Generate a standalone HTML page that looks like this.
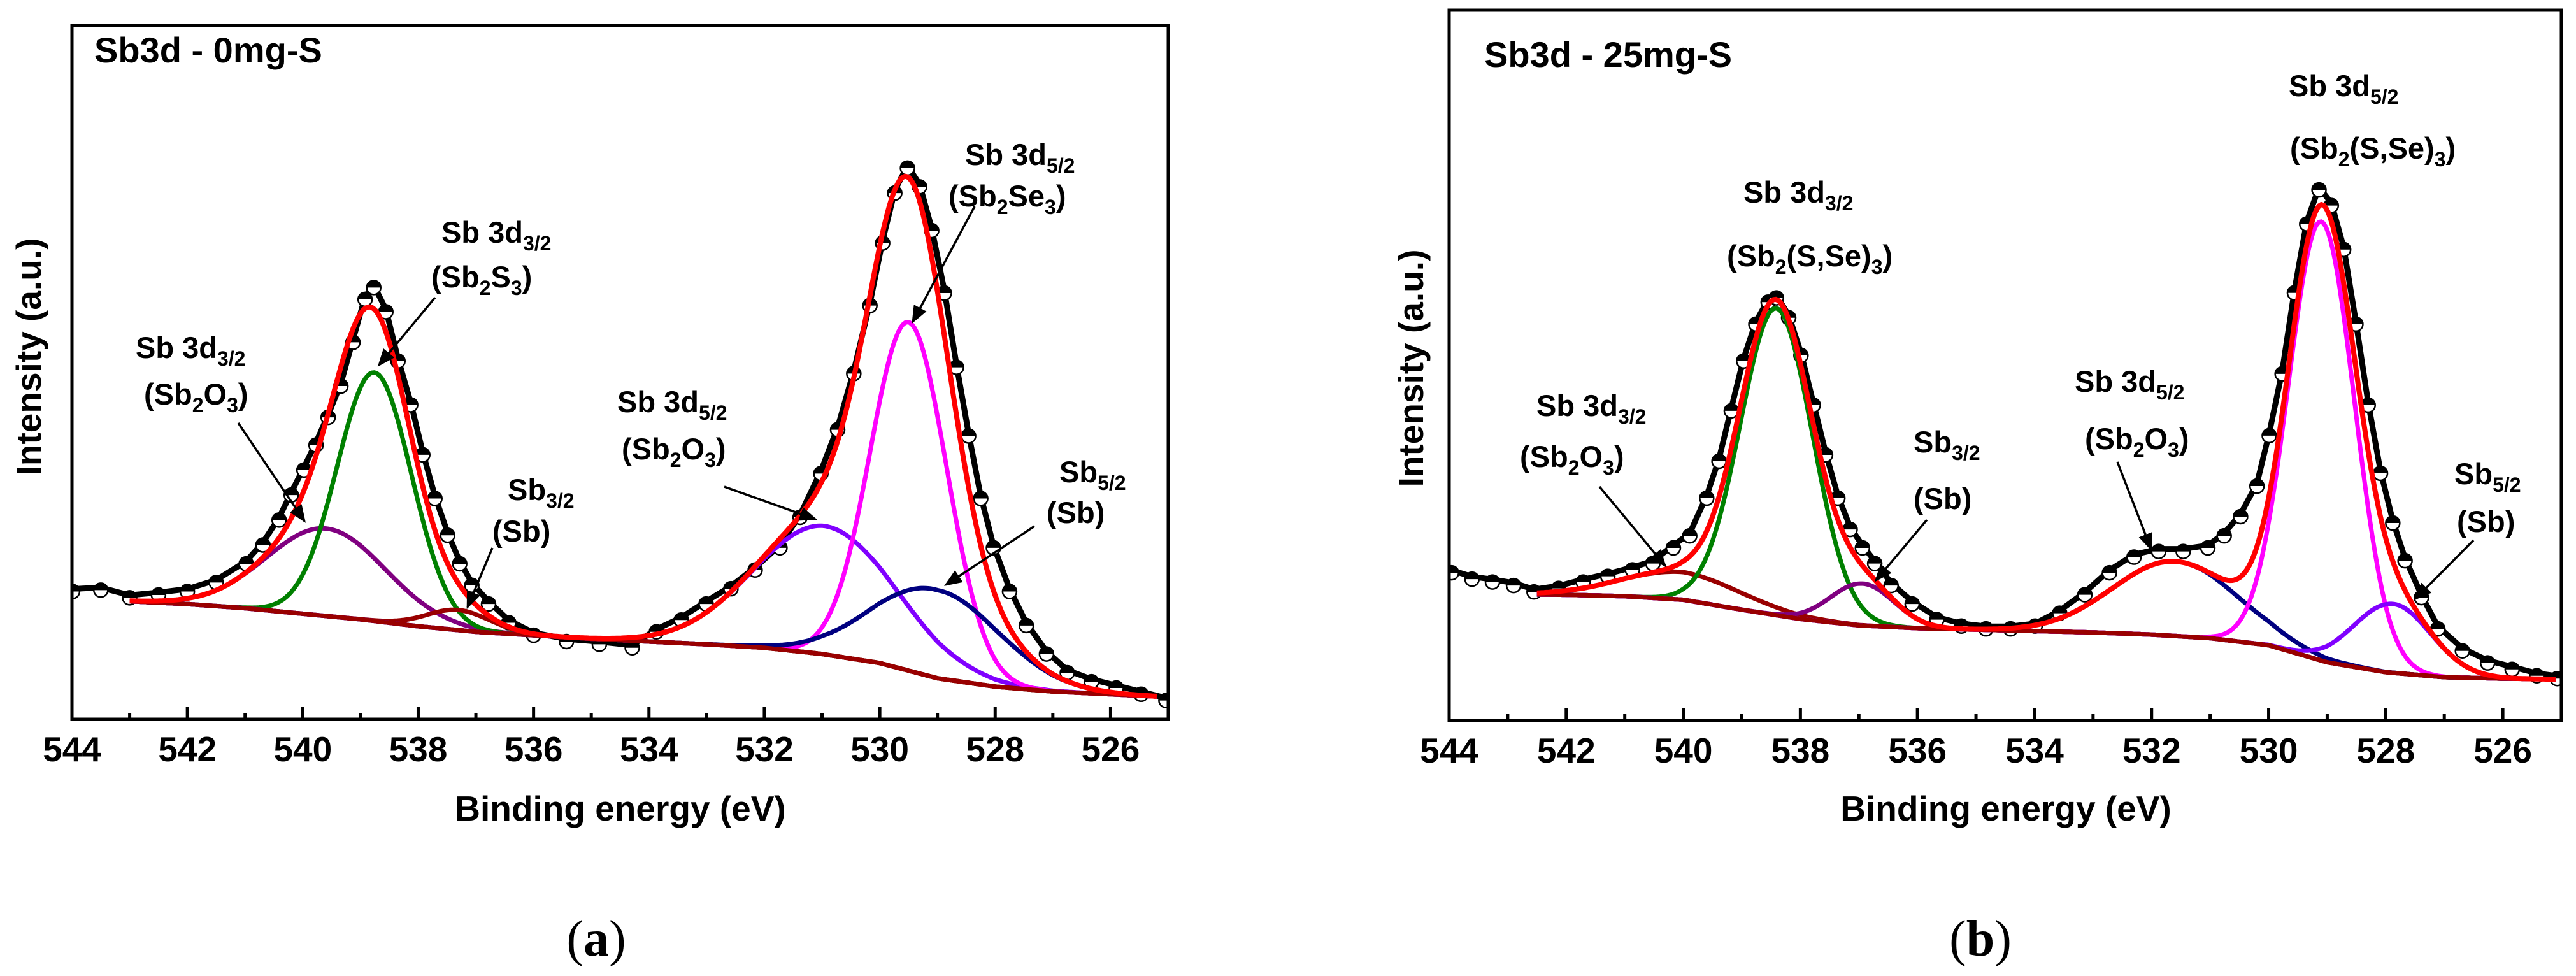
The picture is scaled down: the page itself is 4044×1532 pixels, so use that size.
<!DOCTYPE html>
<html><head><meta charset="utf-8"><title>Sb3d XPS</title>
<style>
html,body{margin:0;padding:0;background:#fff;}
svg{display:block;}
text{font-family:"Liberation Sans",sans-serif;font-weight:bold;fill:#000;}
.cap{font-family:"Liberation Serif",serif;font-weight:normal;}
</style></head>
<body>
<svg id="fig" width="4044" height="1532" viewBox="0 0 4044 1532" xmlns="http://www.w3.org/2000/svg">
<defs>
<marker id="ah" markerWidth="8" markerHeight="8" refX="7" refY="4" orient="auto" markerUnits="strokeWidth">
<path d="M0,0.8 L8,4 L0,7.2 Z" fill="#000"/>
</marker>
</defs>
<g id="panelA"></g>
<g id="panelB"></g>

<text x="148" y="98" font-size="56">Sb3d - 0mg-S</text>
<text x="0" y="0" font-size="55" text-anchor="middle" transform="translate(64,560) rotate(-90)">Intensity (a.u.)</text>
<text x="974" y="1288" font-size="55" text-anchor="middle">Binding energy (eV)</text>
<text class="cap" x="936" y="1500" font-size="80" text-anchor="middle">(<tspan font-weight="bold">a</tspan>)</text>

<g font-size="47">
<text x="213" y="562">Sb 3d<tspan font-size="32" dy="12">3/2</tspan></text>
<text x="226" y="635">(Sb<tspan font-size="32" dy="12">2</tspan><tspan dy="-12">O</tspan><tspan font-size="32" dy="12">3</tspan><tspan dy="-12">)</tspan></text>
<text x="693" y="381">Sb 3d<tspan font-size="32" dy="12">3/2</tspan></text>
<text x="677" y="451">(Sb<tspan font-size="32" dy="12">2</tspan><tspan dy="-12">S</tspan><tspan font-size="32" dy="12">3</tspan><tspan dy="-12">)</tspan></text>
<text x="797" y="785">Sb<tspan font-size="32" dy="12">3/2</tspan></text>
<text x="773" y="850">(Sb)</text>
<text x="969" y="647">Sb 3d<tspan font-size="32" dy="12">5/2</tspan></text>
<text x="976" y="721">(Sb<tspan font-size="32" dy="12">2</tspan><tspan dy="-12">O</tspan><tspan font-size="32" dy="12">3</tspan><tspan dy="-12">)</tspan></text>
<text x="1515" y="259">Sb 3d<tspan font-size="32" dy="12">5/2</tspan></text>
<text x="1489" y="324">(Sb<tspan font-size="32" dy="12">2</tspan><tspan dy="-12">Se</tspan><tspan font-size="32" dy="12">3</tspan><tspan dy="-12">)</tspan></text>
<text x="1663" y="757">Sb<tspan font-size="32" dy="12">5/2</tspan></text>
<text x="1643" y="821">(Sb)</text>
</g>
<g stroke="#000" stroke-width="3.5" marker-end="url(#ah)">
<line x1="374" y1="664" x2="478" y2="818"/>
<line x1="683" y1="467" x2="595" y2="573"/>
<line x1="773" y1="860" x2="734" y2="953"/>
<line x1="1137" y1="764" x2="1280" y2="815"/>
<line x1="1530" y1="324" x2="1433" y2="505"/>
<line x1="1624" y1="826" x2="1485" y2="918"/>
</g>

<text x="2330" y="105" font-size="56">Sb3d - 25mg-S</text>
<text x="0" y="0" font-size="55" text-anchor="middle" transform="translate(2234,578) rotate(-90)">Intensity (a.u.)</text>
<text x="3149" y="1288" font-size="55" text-anchor="middle">Binding energy (eV)</text>
<text class="cap" x="3109" y="1500" font-size="80" text-anchor="middle">(<tspan font-weight="bold">b</tspan>)</text>

<g font-size="47">
<text x="2412" y="653">Sb 3d<tspan font-size="32" dy="12">3/2</tspan></text>
<text x="2386" y="733">(Sb<tspan font-size="32" dy="12">2</tspan><tspan dy="-12">O</tspan><tspan font-size="32" dy="12">3</tspan><tspan dy="-12">)</tspan></text>
<text x="2737" y="318">Sb 3d<tspan font-size="32" dy="12">3/2</tspan></text>
<text x="2711" y="418">(Sb<tspan font-size="32" dy="12">2</tspan><tspan dy="-12">(S,Se)</tspan><tspan font-size="32" dy="12">3</tspan><tspan dy="-12">)</tspan></text>
<text x="3004" y="710">Sb<tspan font-size="32" dy="12">3/2</tspan></text>
<text x="3004" y="799">(Sb)</text>
<text x="3257" y="615">Sb 3d<tspan font-size="32" dy="12">5/2</tspan></text>
<text x="3273" y="705">(Sb<tspan font-size="32" dy="12">2</tspan><tspan dy="-12">O</tspan><tspan font-size="32" dy="12">3</tspan><tspan dy="-12">)</tspan></text>
<text x="3593" y="151">Sb 3d<tspan font-size="32" dy="12">5/2</tspan></text>
<text x="3595" y="249">(Sb<tspan font-size="32" dy="12">2</tspan><tspan dy="-12">(S,Se)</tspan><tspan font-size="32" dy="12">3</tspan><tspan dy="-12">)</tspan></text>
<text x="3853" y="760">Sb<tspan font-size="32" dy="12">5/2</tspan></text>
<text x="3857" y="835">(Sb)</text>
</g>
<g stroke="#000" stroke-width="3.5" marker-end="url(#ah)">
<line x1="2511" y1="764" x2="2614" y2="888"/>
<line x1="3025" y1="816" x2="2945" y2="911"/>
<line x1="3324" y1="725" x2="3377" y2="862"/>
<line x1="3883" y1="848" x2="3792" y2="940"/>
</g>
</svg>
<script>
// ---------- Shared axis data ----------
const tickMajor = [544, 542, 540, 538, 536, 534, 532, 530, 528, 526];
const tickMinor = [543, 541, 539, 537, 535, 533, 531, 529, 527];
const bgEnergy = [543, 542, 541, 540, 539, 538, 537, 536, 535, 534, 533, 532, 531, 530, 529, 528, 527, 526, 525];

// ---------- Panel A data (0mg-S) ----------
const bgA = [17.0, 16.6, 16.0, 15.2, 14.4, 13.4, 12.6, 12.1, 11.6, 11.2, 10.8, 10.3, 9.4, 8.1, 5.9, 4.7, 4.0, 3.6, 3.2];
const peakNamesA = ['sb2o3-3d32', 'sb2s3-3d32', 'sb-32', 'sb2o3-3d52', 'sb2se3-3d52', 'sb-52'];
const peakCenterA = [539.6, 538.76, 537.3, 530.95, 529.5, 529.03];
const peakHeightA = [12.6, 35.8, 2.9, 18.5, 50.2, 12.7];
const peakFwhmA = [2.42, 1.52, 1.3, 2.9, 1.56, 2.6];
const dataEA = [543.99,543.5,543.0,542.5,542.0,541.5,540.98,540.69,540.41,540.2,539.98,539.77,539.56,539.34,539.13,538.92,538.77,538.56,538.35,538.13,537.92,537.71,537.49,537.28,537.07,536.78,536.43,536.0,535.43,534.86,534.29,533.87,533.44,533.01,532.58,532.16,531.73,531.38,531.02,530.73,530.45,530.17,529.95,529.74,529.52,529.31,529.1,528.88,528.67,528.46,528.25,528.03,527.75,527.46,527.11,526.75,526.33,525.9,525.47,525.04];
const dataIA = [18.4,18.6,17.5,17.9,18.4,19.7,22.4,25.1,28.7,32.3,35.9,39.5,43.5,48.0,54.3,60.5,62.2,58.7,51.6,45.3,38.1,31.8,26.5,22.4,19.3,16.6,13.9,12.1,11.2,10.8,10.3,12.6,14.3,16.6,18.8,21.5,24.7,29.1,35.4,41.7,49.8,59.6,68.6,75.8,79.4,76.7,70.4,61.4,50.7,40.8,31.8,24.7,18.4,13.5,9.4,6.7,5.4,4.5,3.6,2.7];

// ---------- Panel B data (25mg-S) ----------
const bgB = [17.8, 17.7, 17.5, 17.0, 15.6, 14.3, 13.4, 13.0, 12.8, 12.6, 12.4, 12.1, 11.6, 10.6, 8.2, 6.8, 6.1, 5.9, 5.8];
const peakNamesB = ['sb2o3-3d32', 'sb2sse3-3d32', 'sb-32', 'sb2o3-3d52', 'sb2sse3-3d52', 'sb-52'];
const peakCenterB = [540.03, 538.41, 536.94, 531.6, 529.1, 527.88];
const peakHeightB = [3.9, 43.2, 5.9, 10.5, 61.8, 9.7];
const peakFwhmB = [2.4, 1.45, 1.26, 2.5, 1.33, 1.55];
const dataEB = [543.96,543.61,543.26,542.9,542.55,542.13,541.71,541.29,540.87,540.52,540.17,539.89,539.6,539.39,539.18,538.97,538.76,538.55,538.41,538.2,537.99,537.78,537.57,537.36,537.15,536.94,536.73,536.45,536.09,535.67,535.25,534.83,534.41,533.99,533.57,533.14,532.72,532.3,531.88,531.46,531.04,530.76,530.48,530.2,529.99,529.77,529.56,529.35,529.14,528.93,528.72,528.51,528.3,528.09,527.88,527.67,527.39,527.11,526.69,526.26,525.84,525.42,525.07];
const dataIB = [20.8,19.9,19.5,19.0,18.1,18.6,19.5,20.3,21.2,22.1,24.3,26.0,31.3,36.5,43.6,50.6,55.8,58.9,59.5,56.7,51.4,44.4,37.4,31.3,26.9,24.3,22.1,19.0,16.4,14.2,13.3,12.9,12.9,13.3,15.1,17.7,20.8,23.0,23.8,23.8,24.3,26.0,28.7,33.0,40.1,48.8,60.2,69.9,74.7,72.5,66.3,55.8,44.4,34.8,27.8,22.5,17.3,12.9,9.8,8.1,7.2,6.3,5.9];

// ---------- Styles (not data) ----------
const colorsA = ['#800080', '#008000', '#990000', '#8000ff', '#ff00ff', '#000080'];
const colorsB = ['#990000', '#008000', '#800080', '#000080', '#ff00ff', '#8000ff'];

const NS = 'http://www.w3.org/2000/svg';
function mk(tag, attrs, parent) {
  const el = document.createElementNS(NS, tag);
  for (const k in attrs) el.setAttribute(k, attrs[k]);
  parent.appendChild(el);
  return el;
}

function bgAt(bg, e) {
  if (e >= bgEnergy[0]) return bg[0];
  for (let i = 0; i < bgEnergy.length - 1; i++) {
    if (e <= bgEnergy[i] && e >= bgEnergy[i + 1]) {
      const t = (bgEnergy[i] - e) / (bgEnergy[i] - bgEnergy[i + 1]);
      return bg[i] + t * (bg[i + 1] - bg[i]);
    }
  }
  return bg[bg.length - 1];
}
function gauss(c, h, w, e) {
  return h * Math.exp(-4 * Math.LN2 * (e - c) * (e - c) / (w * w));
}

function drawPanel(g, cfg, bg, pc, ph, pw, names, colors, dE, dI, tag) {
  const X = e => cfg.left + (cfg.eMax - e) * (cfg.right - cfg.left) / (cfg.eMax - cfg.eMin);
  const Y = v => cfg.bottom - v * (cfg.bottom - cfg.top) / 100;

  const cp = mk('clipPath', { id: 'clip' + tag }, g);
  mk('rect', { x: cfg.left, y: cfg.top, width: cfg.right - cfg.left, height: cfg.bottom - cfg.top }, cp);
  const plot = mk('g', { 'clip-path': 'url(#clip' + tag + ')' }, g);
  
  

  // data band + circles
  let dpath = '';
  for (let i = 0; i < dE.length; i++) dpath += (i ? 'L' : 'M') + X(dE[i]).toFixed(1) + ',' + (Y(dI[i]) - 4).toFixed(1);
  const band = mk('path', { d: dpath, fill: 'none', stroke: '#000', 'stroke-width': 9, 'stroke-linejoin': 'round' }, plot);
  
  
  for (let i = 0; i < dE.length; i++) {
    const cx = X(dE[i]), cy = Y(dI[i]), r = 11;
    const c = mk('circle', { cx: cx, cy: cy, r: r, fill: '#fff', stroke: '#000', 'stroke-width': 2.5 }, plot);
    
    
    const h = mk('path', { d: `M${cx - r},${cy} A${r},${r} 0 0 1 ${cx + r},${cy} Z`, fill: '#000' }, plot);
    
    
  }

  const es = [];
  for (let e = cfg.fitStart; e >= cfg.fitEnd - 1e-9; e -= 0.04) es.push(e);
  for (let k = 0; k < pc.length; k++) {
    const d = es.map((e, i) => (i ? 'L' : 'M') + X(e).toFixed(1) + ',' + Y(bgAt(bg, e) + gauss(pc[k], ph[k], pw[k], e)).toFixed(1)).join('');
    const p = mk('path', { d: d, fill: 'none', stroke: colors[k], 'stroke-width': 7 }, plot);
    
    
  }
  const bgPath = es.map((e, i) => (i ? 'L' : 'M') + X(e).toFixed(1) + ',' + Y(bgAt(bg, e)).toFixed(1)).join('');
  const bgEl = mk('path', { d: bgPath, fill: 'none', stroke: '#990000', 'stroke-width': 7 }, plot);
  
  
  const env = es.map((e, i) => {
    let v = bgAt(bg, e);
    for (let k = 0; k < pc.length; k++) v += gauss(pc[k], ph[k], pw[k], e);
    return (i ? 'L' : 'M') + X(e).toFixed(1) + ',' + Y(v).toFixed(1);
  }).join('');
  const envEl = mk('path', { d: env, fill: 'none', stroke: '#ff0000', 'stroke-width': 8 }, plot);
  
  

  const fr = mk('rect', { x: cfg.left, y: cfg.top, width: cfg.right - cfg.left, height: cfg.bottom - cfg.top, fill: 'none', stroke: '#000', 'stroke-width': 5 }, g);
  
  

  tickMajor.forEach(t => {
    const tl = mk('line', { x1: X(t), x2: X(t), y1: cfg.bottom, y2: cfg.bottom - 20, stroke: '#000', 'stroke-width': 5 }, g);
    
    
    const lb = mk('text', { x: X(t), y: cfg.bottom + 66, 'font-size': 55, 'text-anchor': 'middle' }, g);
    
    
    lb.textContent = String(t);
  });
  tickMinor.forEach(t => {
    const tl = mk('line', { x1: X(t), x2: X(t), y1: cfg.bottom, y2: cfg.bottom - 10, stroke: '#000', 'stroke-width': 5 }, g);
    
    
  });
}

drawPanel(document.getElementById('panelA'),
  { left: 113, right: 1834, top: 39.5, bottom: 1129, eMax: 544, eMin: 525, fitStart: 543, fitEnd: 525.2 },
  bgA, peakCenterA, peakHeightA, peakFwhmA, peakNamesA, colorsA, dataEA, dataIA, 'a');
drawPanel(document.getElementById('panelB'),
  { left: 2275, right: 4021, top: 16, bottom: 1131, eMax: 544, eMin: 525, fitStart: 542.5, fitEnd: 525.1 },
  bgB, peakCenterB, peakHeightB, peakFwhmB, peakNamesB, colorsB, dataEB, dataIB, 'b');
</script>
</body></html>
